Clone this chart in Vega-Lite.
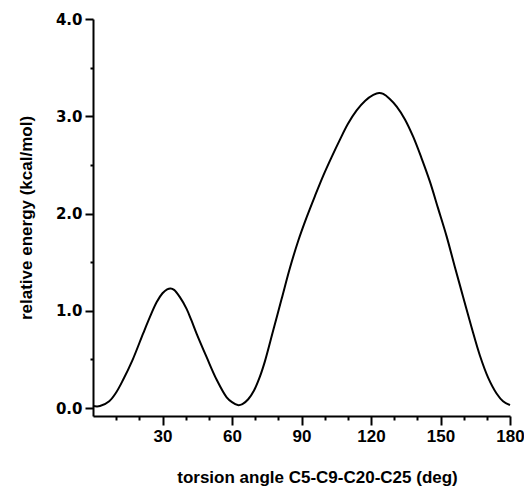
{
  "$schema": "https://vega.github.io/schema/vega-lite/v6.json",
  "autosize": "none",
  "width": 417,
  "height": 397,
  "padding": {"left": 93, "top": 19, "right": 14, "bottom": 71},
  "background": "white",
  "config": {
    "view": {"stroke": null},
    "axis": {
      "grid": false,
      "domainColor": "black",
      "domainWidth": 2,
      "tickColor": "black",
      "tickWidth": 2,
      "labelColor": "black",
      "titleColor": "black",
      "labelFontWeight": "bold",
      "titleFontWeight": "bold",
      "titleFont": "Liberation Sans",
      "labelFlush": false,
      "labelOverlap": false
    }
  },
  "data": {
    "values": [
      {"angle": 0, "energy": 0.02},
      {"angle": 3, "energy": 0.02},
      {"angle": 7, "energy": 0.07},
      {"angle": 10, "energy": 0.16},
      {"angle": 13, "energy": 0.29},
      {"angle": 17, "energy": 0.49},
      {"angle": 21.7, "energy": 0.77},
      {"angle": 25, "energy": 0.96},
      {"angle": 27.5, "energy": 1.09},
      {"angle": 30, "energy": 1.18},
      {"angle": 32, "energy": 1.22},
      {"angle": 33.5, "energy": 1.23},
      {"angle": 35, "energy": 1.215},
      {"angle": 37.5, "energy": 1.14},
      {"angle": 40.4, "energy": 1.02},
      {"angle": 42.5, "energy": 0.9},
      {"angle": 44.8, "energy": 0.76},
      {"angle": 49.1, "energy": 0.52},
      {"angle": 53.4, "energy": 0.29},
      {"angle": 57.7, "energy": 0.11},
      {"angle": 60, "energy": 0.06},
      {"angle": 62.5, "energy": 0.03},
      {"angle": 64.5, "energy": 0.04},
      {"angle": 67, "energy": 0.09},
      {"angle": 69.5, "energy": 0.18},
      {"angle": 72, "energy": 0.32},
      {"angle": 74.2, "energy": 0.48},
      {"angle": 77.8, "energy": 0.8},
      {"angle": 81.4, "energy": 1.12},
      {"angle": 85, "energy": 1.44},
      {"angle": 88.6, "energy": 1.72},
      {"angle": 92.2, "energy": 1.96},
      {"angle": 95.8, "energy": 2.18},
      {"angle": 99.4, "energy": 2.39},
      {"angle": 103, "energy": 2.58},
      {"angle": 106.6, "energy": 2.76},
      {"angle": 110, "energy": 2.92},
      {"angle": 113.8, "energy": 3.06},
      {"angle": 117.5, "energy": 3.16},
      {"angle": 121, "energy": 3.22},
      {"angle": 123.5, "energy": 3.24},
      {"angle": 125.3, "energy": 3.23},
      {"angle": 128, "energy": 3.18},
      {"angle": 131.1, "energy": 3.1},
      {"angle": 134.6, "energy": 2.97},
      {"angle": 138.2, "energy": 2.79},
      {"angle": 141.8, "energy": 2.57},
      {"angle": 145.4, "energy": 2.33},
      {"angle": 149, "energy": 2.05},
      {"angle": 152.7, "energy": 1.76},
      {"angle": 156.2, "energy": 1.45},
      {"angle": 159.8, "energy": 1.14},
      {"angle": 163.4, "energy": 0.83},
      {"angle": 167, "energy": 0.54},
      {"angle": 170.6, "energy": 0.31},
      {"angle": 174.2, "energy": 0.15},
      {"angle": 177, "energy": 0.07},
      {"angle": 180, "energy": 0.03}
    ]
  },
  "mark": {"type": "line", "color": "black", "strokeWidth": 2, "interpolate": "catmull-rom"},
  "encoding": {
    "x": {
      "field": "angle",
      "type": "quantitative",
      "scale": {"domain": [0, 180], "nice": false, "zero": false},
      "axis": {
        "title": "torsion angle C5-C9-C20-C25 (deg)",
        "titleFontSize": 17,
        "titleX": 224,
        "values": [10, 20, 30, 40, 50, 60, 70, 80, 90, 100, 110, 120, 130, 140, 150, 160, 170, 180],
        "labelExpr": "datum.value % 30 === 0 ? datum.label : ''",
        "tickSize": {"condition": {"test": "datum.value % 30 !== 0", "value": 4}, "value": 9},
        "labelFont": "Liberation Sans",
        "labelFontSize": 17,
        "labelPadding": 3,
        "titlePadding": 25
      }
    },
    "y": {
      "field": "energy",
      "type": "quantitative",
      "scale": {"domain": [-0.082, 4], "nice": false, "zero": false},
      "axis": {
        "title": "relative energy (kcal/mol)",
        "titleFontSize": 17,
        "values": [0, 0.5, 1, 1.5, 2, 2.5, 3, 3.5, 4],
        "labelExpr": "datum.value % 1 === 0 ? format(datum.value, '.1f') : ''",
        "tickSize": {"condition": {"test": "datum.value % 1 !== 0", "value": 3}, "value": 8},
        "labelFont": "DejaVu Sans",
        "labelFontSize": 15,
        "labelPadding": 3,
        "titlePadding": 20
      }
    }
  }
}
